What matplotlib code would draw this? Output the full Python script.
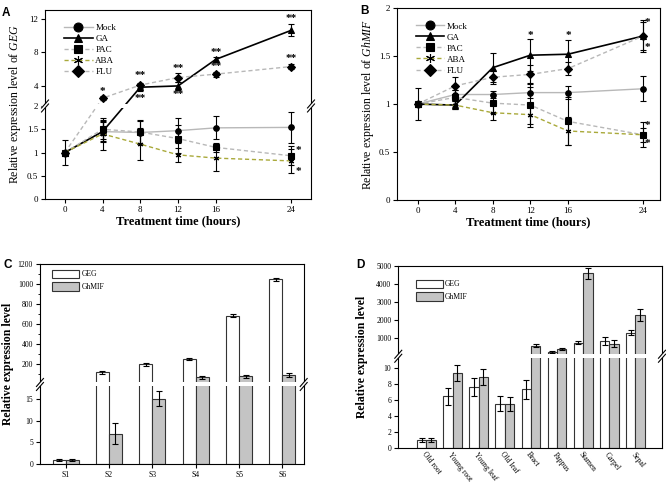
import numpy as np
import matplotlib
matplotlib.use('Agg')
import matplotlib.pyplot as plt
from matplotlib.patches import Rectangle

plt.rcParams['font.family'] = 'Liberation Serif'
plt.rcParams['mathtext.fontset'] = 'custom'
plt.rcParams['mathtext.it'] = 'Liberation Serif:italic'
plt.rcParams['mathtext.rm'] = 'Liberation Serif'
plt.rcParams['axes.linewidth'] = 0.8

# ---- data ----
hours = [0, 4, 8, 12, 16, 24]
treatments = ['Mock', 'GA', 'PAC', 'ABA', 'FLU']

# panel A: GEG
geg_t = {
    'Mock': [1.0, 1.45, 1.43, 1.47, 1.53, 1.54],
    'GA':   [1.0, 1.45, 3.85, 4.0, 7.15, 10.6],
    'PAC':  [1.0, 1.5, 1.44, 1.3, 1.11, 0.93],
    'ABA':  [1.0, 1.4, 1.18, 0.95, 0.88, 0.82],
    'FLU':  [1.0, 2.55, 4.1, 5.0, 5.4, 6.3],
}
geg_t_err = {
    'Mock': [0.27, 0.22, 0.25, 0.27, 0.25, 0.33],
    'GA':   [0.0, 0.2, 0.4, 0.5, 0.25, 0.7],
    'PAC':  [0.0, 0.2, 0.25, 0.3, 0.1, 0.2],
    'ABA':  [0.0, 0.35, 0.35, 0.15, 0.28, 0.25],
    'FLU':  [0.0, 0.2, 0.3, 0.5, 0.3, 0.25],
}
# panel B: GhMIF
mif_t = {
    'Mock': [1.0, 1.1, 1.1, 1.12, 1.12, 1.16],
    'GA':   [1.0, 0.99, 1.38, 1.51, 1.52, 1.71],
    'PAC':  [1.0, 1.07, 1.01, 0.99, 0.82, 0.68],
    'ABA':  [1.0, 0.99, 0.91, 0.89, 0.72, 0.68],
    'FLU':  [1.0, 1.19, 1.28, 1.31, 1.37, 1.71],
}
mif_t_err = {
    'Mock': [0.17, 0.05, 0.04, 0.06, 0.07, 0.13],
    'GA':   [0.0, 0.04, 0.15, 0.17, 0.15, 0.17],
    'PAC':  [0.0, 0.08, 0.1, 0.23, 0.25, 0.13],
    'ABA':  [0.0, 0.04, 0.08, 0.1, 0.15, 0.07],
    'FLU':  [0.0, 0.09, 0.07, 0.1, 0.07, 0.15],
}
stars_a = [(4, 3.35, '*'), (8, 5.2, '**'), (8, 2.55, '**'), (12, 6.1, '**'), (12, 2.95, '**'),
           (16, 8.0, '**'), (16, 6.3, '**'), (24, 12.0, '**'), (24, 7.2, '**'),
           (24.8, 1.05, '*'), (24.8, 0.6, '*')]
stars_b = [(12, 1.72, '*'), (16, 1.72, '*'), (24.5, 1.85, '*'), (24.5, 1.585, '*'),
           (24.5, 0.78, '*'), (24.5, 0.585, '*')]

# panel C: stages
stages = ['S1', 'S2', 'S3', 'S4', 'S5', 'S6']
geg_s = [1.0, 123, 200, 259, 686, 1048]
geg_s_err = [0.3, 15, 12, 10, 15, 18]
mif_s = [1.0, 7.0, 15.0, 74, 80, 94]
mif_s_err = [0.3, 2.4, 1.7, 15, 18, 18]

# panel D: tissues
tissues = ['Old root', 'Young root', 'Young leaf', 'Old leaf', 'Bract', 'Pappus', 'Stamen', 'Carpel', 'Sepal']
geg_o = [1.0, 6.4, 7.55, 5.5, 7.3, 225, 760, 850, 1315]
geg_o_err = [0.25, 1.0, 1.1, 0.9, 1.2, 60, 70, 230, 130]
mif_o = [1.0, 9.35, 8.85, 5.45, 595, 390, 4590, 700, 2300]
mif_o_err = [0.2, 1.0, 1.0, 0.9, 110, 70, 280, 200, 320]

styles = {
    'Mock': dict(color='#b8b8b8', ls='-', marker='o'),
    'GA':   dict(color='black', ls='-', marker='^'),
    'PAC':  dict(color='#b8b8b8', ls=(0, (3, 2)), marker='s'),
    'ABA':  dict(color='#a9a93a', ls=(0, (3, 2)), marker=(6, 2, 0)),
    'FLU':  dict(color='#b8b8b8', ls=(0, (3, 2)), marker='D'),
}


def broken(lo_top, hi_start, ratio):
    def fwd(y):
        y = np.asarray(y, float)
        return np.where(y <= lo_top, y, lo_top + (y - hi_start) * ratio)

    def inv(t):
        t = np.asarray(t, float)
        return np.where(t <= lo_top, t, hi_start + (t - lo_top) / ratio)
    return fwd, inv


def draw_break(ax, fwd, lo_top, ymax):
    fig = ax.figure
    bb = ax.get_position()
    wpx = bb.width * fig.get_figwidth() * fig.dpi
    hpx = bb.height * fig.get_figheight() * fig.dpi
    frac = float(fwd(lo_top)) / float(fwd(ymax))
    gap = 4.0 / hpx
    ax.add_patch(Rectangle((-0.012, frac - gap / 2), 1.024, gap, transform=ax.transAxes,
                           facecolor='white', edgecolor='none', clip_on=False, zorder=5))
    dx, dy = 3.5 / wpx, 4.0 / hpx
    for x0 in (0, 1):
        for off in (-gap / 2, gap / 2):
            ax.plot([x0 - dx, x0 + dx], [frac + off - dy, frac + off + dy], transform=ax.transAxes,
                    color='black', lw=0.8, clip_on=False, zorder=6)


def style_axes(ax, size):
    ax.tick_params(direction='out', length=3, width=0.8, labelsize=size, pad=2)
    ax.tick_params(which='minor', direction='out', length=1.5, width=0.6)


def time_panel(ax, data, err):
    for t in treatments:
        st = styles[t]
        ax.errorbar(hours, data[t], yerr=err[t], fmt='none', ecolor='black', elinewidth=0.8,
                    capsize=2, capthick=0.8, zorder=3)
        ax.plot(hours, data[t], color=st['color'], ls=st['ls'], lw=1.0 if t != 'GA' else 1.2,
                marker=st['marker'], ms=4, mfc='black', mec='black', mew=0.8, label=t, zorder=4)
    ax.set_xticks(hours)
    ax.set_xlabel('Treatment time (hours)', fontsize=9, fontweight='bold', labelpad=1)
    ax.legend(loc='upper left', bbox_to_anchor=(0.05, 0.955), frameon=False, fontsize=6.5,
              handlelength=3.2, markerscale=1.6, labelspacing=0.3, handletextpad=0.3, borderaxespad=0.2)


fig = plt.figure(figsize=(6.66, 4.82), dpi=100)

# ---- A ----
axA = fig.add_axes([0.0676, 0.587, 0.3994, 0.392])
fA = broken(2.0, 1.62, 0.181)
axA.set_yscale('function', functions=fA)
time_panel(axA, geg_t, geg_t_err)
axA.set_xlim(-2.1, 26.1)
axA.set_ylim(0, 13)
axA.set_yticks([0, 0.5, 1, 1.5, 2, 4, 8, 12])
axA.set_yticklabels(['0', '0.5', '1', '1.5', '2', '4', '8', '12'])
axA.yaxis.set_minor_locator(matplotlib.ticker.NullLocator())
axA.set_ylabel(r'Relative expression level of $\mathit{GEG}$', fontsize=8.5, labelpad=3)
style_axes(axA, 6.5)
for x, y, s in stars_a:
    axA.text(x, y, s, ha='center', va='center', fontsize=8, fontweight='bold', zorder=7)
draw_break(axA, fA[0], 2.0, 13)

# ---- B ----
axB = fig.add_axes([0.596, 0.585, 0.395, 0.398])
time_panel(axB, mif_t, mif_t_err)
axB.set_xlim(-2.2, 25.8)
axB.set_ylim(0, 2)
axB.set_yticks([0, 0.5, 1, 1.5, 2])
axB.set_yticklabels(['0', '0.5', '1', '1.5', '2'])
axB.set_ylabel(r'Relative expression level of $\mathit{GhMIF}$', fontsize=8.5, labelpad=2)
style_axes(axB, 6.5)
for x, y, s in stars_b:
    axB.text(x, y, s, ha='center', va='center', fontsize=8, fontweight='bold', zorder=7)

# ---- C ----
axC = fig.add_axes([0.060, 0.037, 0.396, 0.415])
fC = broken(18.3, 0.0, 0.02303)
axC.set_yscale('function', functions=fC)
xc = np.arange(len(stages))
ekw = dict(lw=0.8, capsize=2, capthick=0.8, ecolor='black')
axC.bar(xc - 0.15, geg_s, 0.3, yerr=geg_s_err, color='white', edgecolor='#333333', lw=0.8,
        error_kw=ekw, label='GEG')
axC.bar(xc + 0.15, mif_s, 0.3, yerr=mif_s_err, color='#c4c4c4', edgecolor='#333333', lw=0.8,
        error_kw=ekw, label='GhMIF')
axC.set_xlim(-0.59, 5.49)
axC.set_ylim(0, 1200)
axC.set_xticks(xc)
axC.set_xticklabels(stages)
axC.set_yticks([0, 5, 10, 15, 200, 400, 600, 800, 1000, 1200])
axC.set_yticklabels(['0', '5', '10', '15', '200', '400', '600', '800', '1000', '1200'])
axC.set_yticks([100, 300, 500, 700, 900, 1100], minor=True)
axC.set_ylabel('Relative expression level', fontsize=8.5, fontweight='bold', labelpad=3)
style_axes(axC, 5.5)
axC.legend(loc='upper left', bbox_to_anchor=(0.03, 0.995), frameon=False, fontsize=5.5,
           handlelength=3.5, handleheight=1.3, labelspacing=0.5, handletextpad=0.3, borderaxespad=0.2)
draw_break(axC, fC[0], 18.3, 1200)

# ---- D ----
axD = fig.add_axes([0.598, 0.0705, 0.396, 0.3775])
fD = broken(11.4, 0.0, 0.00224)
axD.set_yscale('function', functions=fD)
xd = np.arange(len(tissues))
axD.bar(xd - 0.18, geg_o, 0.36, yerr=geg_o_err, color='white', edgecolor='#333333', lw=0.8,
        error_kw=ekw, label='GEG')
axD.bar(xd + 0.18, mif_o, 0.36, yerr=mif_o_err, color='#c4c4c4', edgecolor='#333333', lw=0.8,
        error_kw=ekw, label='GhMIF')
axD.set_xlim(-1.08, 9.02)
axD.set_ylim(0, 5000)
axD.set_xticks(xd)
axD.set_xticklabels(tissues, rotation=-52, ha='left', va='top', rotation_mode='anchor')
axD.set_yticks([0, 2, 4, 6, 8, 10, 1000, 2000, 3000, 4000, 5000])
axD.set_yticklabels(['0', '2', '4', '6', '8', '10', '1000', '2000', '3000', '4000', '5000'])
axD.yaxis.set_minor_locator(matplotlib.ticker.NullLocator())
axD.set_ylabel('Relative expression level', fontsize=8.5, fontweight='bold', labelpad=6)
style_axes(axD, 5.5)
axD.tick_params(axis='x', labelsize=5.5, length=0, pad=2)
axD.legend(loc='upper left', bbox_to_anchor=(0.05, 0.95), frameon=False, fontsize=5.5,
           handlelength=3.5, handleheight=1.3, labelspacing=0.5, handletextpad=0.3, borderaxespad=0.2)
draw_break(axD, fD[0], 11.4, 5000)

# panel letters
for x, y, s in [(0.003, 0.985, 'A'), (0.541, 0.99, 'B'), (0.006, 0.463, 'C'), (0.535, 0.463, 'D')]:
    fig.text(x, y, s, fontsize=8.5, fontweight='bold', family='Liberation Sans', va='top')

fig.savefig('out.png', dpi=100)
